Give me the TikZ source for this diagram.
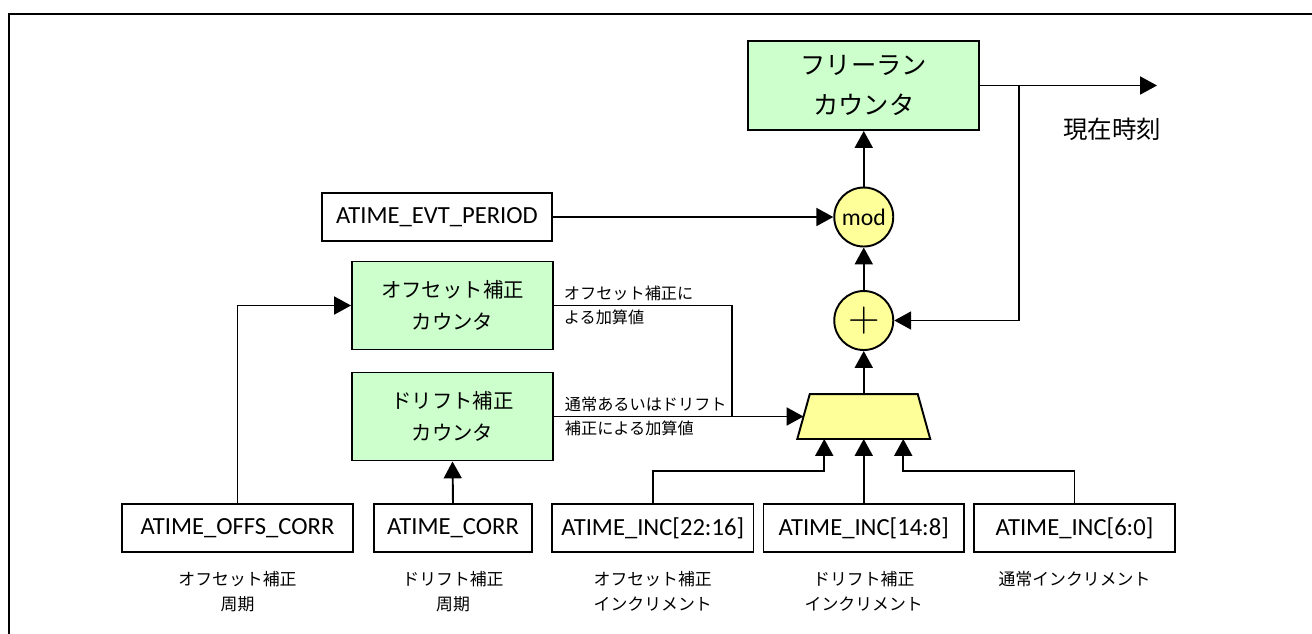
\documentclass[tikz,border=0pt]{standalone}
\usepackage{fontspec}
\setmainfont{Carlito}
\newfontfamily\jp{Noto Sans CJK JP}
\usetikzlibrary{arrows.meta,positioning}
\definecolor{cntG}{RGB}{204,255,204}
\definecolor{opY}{RGB}{255,255,153}

\begin{document}
\begin{tikzpicture}[>={Triangle[length=9.6pt,width=10.2pt]},line width=1.1pt,
  reg/.style={draw,minimum height=0.96cm,inner sep=0pt,font=\fontsize{14}{16}\selectfont},
  cnt/.style={draw,fill=cntG,minimum width=4.02cm,minimum height=1.76cm,align=center,inner sep=0pt,font=\jp\fontsize{11.6}{18.1}\selectfont},
  op/.style={draw,circle,fill=opY,minimum size=1.18cm,inner sep=0pt},
  lbl/.style={inner sep=0pt,align=center,font=\jp\fontsize{9.6}{14.2}\selectfont},
  wlbl/.style={inner sep=0pt,align=left,font=\jp\fontsize{9.2}{13.6}\selectfont}]
\useasboundingbox (0,0) rectangle (26.24,-12.66);
\draw[line width=1.2pt] (0.18,-12.8) |- (26.4,-0.28);
% counter chain
\node[cnt,minimum width=4.62cm,minimum height=1.78cm,font=\jp\fontsize{14.4}{22.7}\selectfont] (frc) at (17.275,-1.71) {フリーラン\\カウンタ};
\node[op,font=\fontsize{13.5}{13.5}\selectfont] (mod) at (17.275,-4.34) {mod};
\node[op,font=\fontsize{24}{24}\selectfont] (add) at (17.275,-6.41) {$+$};
\node[minimum width=2.62cm,minimum height=0.86cm,inner sep=0pt] (mux) at (17.275,-8.33) {};
\draw[fill=opY] (mux.south west) -- ([xshift=0.25cm]mux.north west) -- ([xshift=-0.25cm]mux.north east) -- (mux.south east) -- cycle;
\node[reg,minimum width=4.6cm] (evt) at (8.74,-4.34) {ATIME\_EVT\_PERIOD};
\node[cnt] (ofs) at (9.05,-6.11) {オフセット補正\\カウンタ};
\node[cnt] (drift) at (9.05,-8.33) {ドリフト補正\\カウンタ};
% registers
\node[reg,minimum width=4.62cm] (oc) at (4.75,-10.56) {ATIME\_OFFS\_CORR};
\node[reg,minimum width=3.16cm] (corr) at (9.06,-10.56) {ATIME\_CORR};
\node[reg,minimum width=4.03cm] (inc22) at (13.055,-10.56) {ATIME\_INC[22:16]};
\node[reg,minimum width=4.01cm] (inc14) at (17.275,-10.56) {ATIME\_INC[14:8]};
\node[reg,minimum width=4.02cm] (inc6) at (21.49,-10.56) {ATIME\_INC[6:0]};
\node[lbl,below=0.35cm of oc] (ocl) {オフセット補正\\周期};
\node[lbl,below=0.35cm of corr] (corrl) {ドリフト補正\\周期};
\node[lbl,below=0.35cm of inc22] (inc22l) {オフセット補正\\インクリメント};
\node[lbl,below=0.35cm of inc14] (inc14l) {ドリフト補正\\インクリメント};
\node[lbl,below=0.35cm of inc6] (inc6l) {通常インクリメント};
% wires
\coordinate (tap) at (20.38,-1.71); \coordinate (now) at (23.14,-1.71);
\coordinate (jn) at (14.64,-8.33);
\draw[->] (frc.east) -- (now);
\node[font=\jp\fontsize{13.9}{14}\selectfont] (nowl) at (22.24,-2.58) {現在時刻};
\draw[->] (tap) |- (add.east);
\draw[->] (mod.north) -- (frc.south);
\draw[->] (add.north) -- (mod.south);
\draw[->] (mux.north) -- (add.south);
\draw[->] (evt.east) -- (mod.west);
\draw[->] (oc.north) |- (ofs.west);
\draw[->] (corr.north) -- (drift.south);
\draw (ofs.east) -| (jn);
\draw[->] (drift.east) -- ([xshift=0.125cm]mux.west);
\node[wlbl,right=0.18cm of ofs.east] (ofsv) {オフセット補正に\\よる加算値};
\node[wlbl,right=0.2cm of drift.east] (drv) {通常あるいはドリフト\\補正による加算値};
\path (mux.south) ++(-0.79,0) coordinate (mA) (mux.south) ++(0.79,0) coordinate (mC);
\draw[->] (inc22.north) -- ++(0,0.64) -| (mA);
\draw[->] (inc14.north) -- (mux.south);
\draw[->] (inc6.north) -- ++(0,0.64) -| (mC);
\end{tikzpicture}
\end{document}
